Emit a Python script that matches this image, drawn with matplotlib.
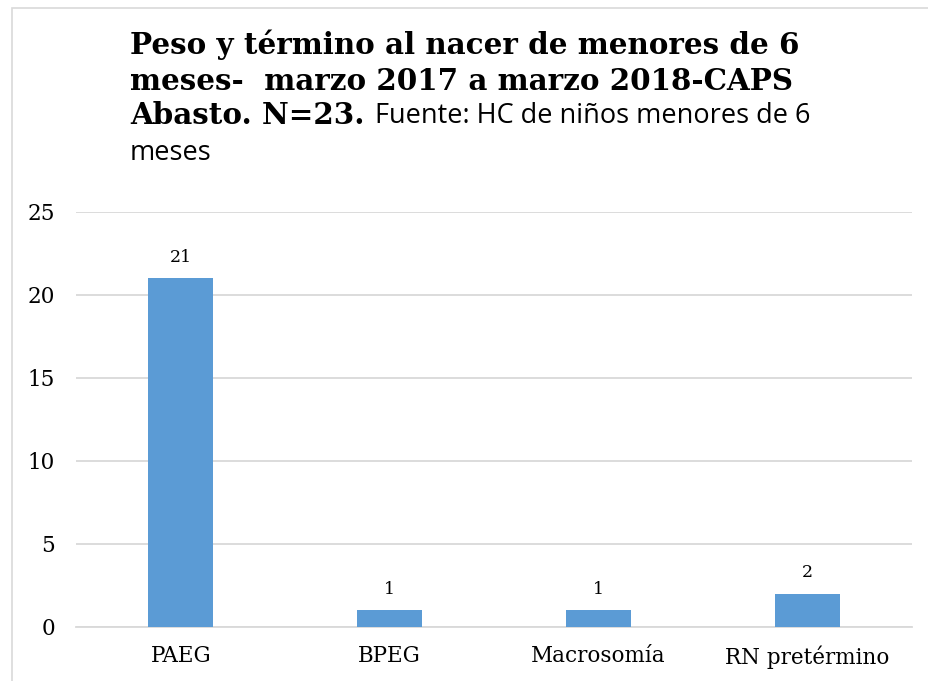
import matplotlib
matplotlib.use("Agg")
import matplotlib.pyplot as plt
from matplotlib.patches import Rectangle

# ============================================
# Data
# ============================================

categories = ["PAEG", "BPEG", "Macrosomía", "RN pretérmino"]
values = [21, 1, 1, 2]
y_ticks = [0, 5, 10, 15, 20, 25]

bar_color = "#5B9BD5"
grid_color = "#D9D9D9"
serif = "DejaVu Serif"
sans = "Open Sans"

# ============================================
# Plot
# ============================================

fig = plt.figure(figsize=(9.29, 6.81), dpi=100)
ax = fig.add_axes([0.0823, 0.0793, 0.8989, 0.6094])

x = range(len(categories))
bars = ax.bar(x, values, width=0.31, color=bar_color, zorder=3)

for b, v in zip(bars, values):
    ax.text(b.get_x() + b.get_width() / 2, v + 0.75, str(v),
            ha="center", va="bottom", fontsize=12.5, family=serif)

ax.set_ylim(0, 25)
ax.set_xlim(-0.5, len(categories) - 0.5)
ax.set_yticks(y_ticks)
ax.set_yticklabels([str(t) for t in y_ticks], family=serif, fontsize=15.5)
ax.set_xticks(list(x))
ax.set_xticklabels(categories, family=serif, fontsize=15.5)
ax.tick_params(axis="both", length=0)
ax.tick_params(axis="y", pad=15.5)
ax.tick_params(axis="x", pad=13)

ax.grid(axis="y", color=grid_color, linewidth=1.3, zorder=0)
for s in ["top", "right", "left"]:
    ax.spines[s].set_visible(False)
ax.spines["bottom"].set_color(grid_color)
ax.spines["bottom"].set_linewidth(1.3)

# chart border (cropped on right and bottom)
fig.patches.append(Rectangle((12 / 929, -0.1), 1.2, 1 - 8 / 681 + 0.1,
                             transform=fig.transFigure, fill=False,
                             edgecolor="#D9D9D9", linewidth=1.2))

# ============================================
# Title (mixed fonts)
# ============================================

tx = 130 / 929
fig.text(tx, 1 - 45 / 681, "Peso y término al nacer de menores de 6",
         fontsize=21.2, fontweight="bold", family=serif, va="center")
fig.text(tx, 1 - 81 / 681, "meses-  marzo 2017 a marzo 2018-CAPS",
         fontsize=21.2, fontweight="bold", family=serif, va="center")
t1 = fig.text(tx, 1 - 116 / 681, "Abasto. N=23. ",
              fontsize=21.2, fontweight="bold", family=serif, va="center")
fig.canvas.draw()
bb = t1.get_window_extent()
fig.text(bb.x1 / 929 * 100 / fig.dpi, 1 - 116 / 681,
         "Fuente: HC de niños menores de 6",
         fontsize=19.5, family=sans, va="center")
fig.text(tx, 1 - 153 / 681, "meses", fontsize=19.5, family=sans, va="center")

plt.savefig("out.png", dpi=100)
